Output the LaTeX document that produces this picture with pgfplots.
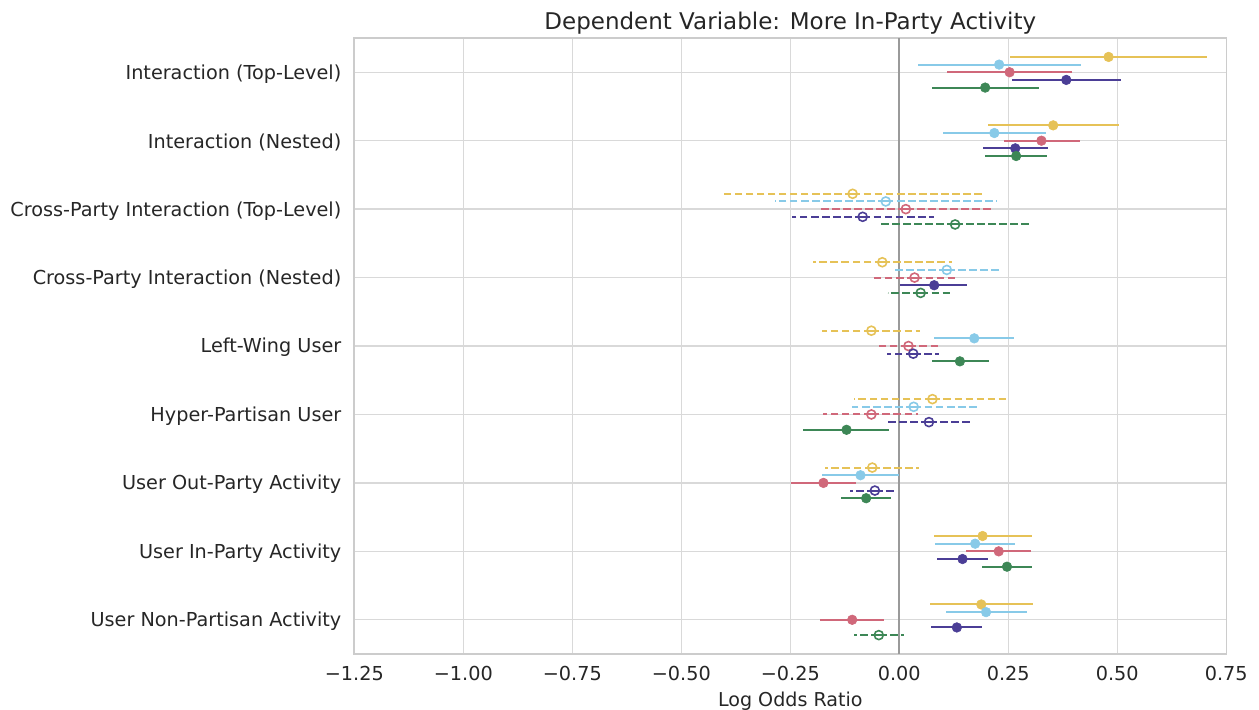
\documentclass[border=0pt]{standalone}
\usepackage{pgfplots}
\usepackage{pgfplotstable}
\pgfplotsset{compat=1.18}
\usepackage{fontspec}
\setmainfont{DejaVu Sans}
\definecolor{cY}{HTML}{E6C257}
\definecolor{cB}{HTML}{88CAE8}
\definecolor{cR}{HTML}{D0687A}
\definecolor{cP}{HTML}{4B3E96}
\definecolor{cG}{HTML}{3D8756}
\definecolor{txt}{HTML}{262626}
\definecolor{gridc}{HTML}{D9D9D9}
\definecolor{framec}{HTML}{CCCCCC}
\definecolor{zeroc}{HTML}{9A9A9A}

\pgfplotsset{
 sigplot/.style={only marks, mark=*, color=#1, mark size=2.4pt,
   mark options={solid, fill=#1, draw=#1, line width=0.3pt},
   error bars/.cd, x dir=both, x explicit, error mark=none,
   error bar style={line width=1pt, solid, color=#1}},
 nsplot/.style={only marks, mark=o, color=#1, mark size=2.25pt,
   mark options={solid, fill=none, draw=#1, line width=0.8pt},
   error bars/.cd, x dir=both, x explicit, error mark=none,
   error bar style={line width=1pt, dash pattern=on 3.85pt off 1.67pt, color=#1}},
 table/ci/.style={x=e, y=y, x error plus expr=\thisrow{h}-\thisrow{e}, x error minus expr=\thisrow{e}-\thisrow{l}},
}

% y: category index + offset (yellow -0.224, blue -0.112, red 0, purple +0.112, green +0.224)
\pgfplotstableread{
y e l h
-0.224 0.480 0.255 0.706
0.776 0.353 0.203 0.505
6.776 0.191 0.079 0.304
7.776 0.188 0.071 0.306
}\Ysig
\pgfplotstableread{
y e l h
1.776 -0.107 -0.410 0.193
2.776 -0.039 -0.197 0.121
3.776 -0.064 -0.177 0.047
4.776 0.076 -0.104 0.249
5.776 -0.062 -0.170 0.046
}\Yns
\pgfplotstableread{
y e l h
-0.112 0.229 0.044 0.417
0.888 0.218 0.101 0.336
3.888 0.172 0.080 0.264
5.888 -0.089 -0.178 0.000
6.888 0.174 0.083 0.265
7.888 0.199 0.106 0.292
}\Bsig
\pgfplotstableread{
y e l h
1.888 -0.031 -0.285 0.223
2.888 0.109 -0.014 0.228
4.888 0.033 -0.109 0.178
}\Bns
\pgfplotstableread{
y e l h
0 0.253 0.110 0.396
1 0.326 0.239 0.414
6 -0.174 -0.248 -0.099
7 0.228 0.154 0.302
8 -0.108 -0.182 -0.034
}\Rsig
\pgfplotstableread{
y e l h
2 0.015 -0.180 0.210
3 0.035 -0.058 0.128
4 0.021 -0.050 0.092
5 -0.064 -0.174 0.044
}\Rns
\pgfplotstableread{
y e l h
0.112 0.383 0.258 0.508
1.112 0.266 0.193 0.341
3.112 0.080 0.001 0.156
7.112 0.145 0.087 0.203
8.112 0.132 0.073 0.190
}\Psig
\pgfplotstableread{
y e l h
2.112 -0.084 -0.245 0.080
4.112 0.032 -0.028 0.092
5.112 0.068 -0.027 0.164
6.112 -0.056 -0.112 -0.006
}\Pns
\pgfplotstableread{
y e l h
0.224 0.197 0.074 0.321
1.224 0.268 0.197 0.339
4.224 0.139 0.074 0.205
5.224 -0.121 -0.220 -0.023
6.224 -0.076 -0.133 -0.020
7.224 0.247 0.190 0.304
}\Gsig
\pgfplotstableread{
y e l h
2.224 0.128 -0.042 0.300
3.224 0.049 -0.027 0.122
8.224 -0.047 -0.105 0.011
}\Gns

\begin{document}
\begin{tikzpicture}
\useasboundingbox (-177.15pt,-27.5pt) rectangle (452.35pt,327pt);
\begin{axis}[
 at={(0,0)}, anchor=south west,
 scale only axis, width=436pt, height=308pt,
 xmin=-1.25, xmax=0.75, ymin=-0.5, ymax=8.5, y dir=reverse,
 xtick={-1.25,-1.00,-0.75,-0.50,-0.25,0,0.25,0.50,0.75},
 xticklabels={−1.25,−1.00,−0.75,−0.50,−0.25,0.00,0.25,0.50,0.75},
 ytick={0,1,2,3,4,5,6,7,8},
 yticklabels={Interaction (Top-Level),Interaction (Nested),Cross-Party Interaction (Top-Level),Cross-Party Interaction (Nested),Left-Wing User,Hyper-Partisan User,User Out-Party Activity,User In-Party Activity,User Non-Partisan Activity},
 grid=major, major grid style={color=gridc, line width=0.65pt},
 axis line style={color=framec, line width=0.8pt},
 major tick length=0pt, tick style={draw=none},
 tick label style={font=\fontsize{9.62}{11}\selectfont, text=txt},
 xticklabel style={anchor=base, yshift=-13pt, inner sep=0pt},
 yticklabel style={anchor=east, xshift=-6.3pt, yshift=-0.8pt, inner sep=0pt},
 title={Dependent Variable: More In-Party Activity},
 title style={at={(axis description cs:0.5,1)}, anchor=base, yshift=-1.6pt, font=\fontsize{11.5}{13}\selectfont, text=txt, inner sep=0pt},
 xlabel={Log Odds Ratio},
 xlabel style={at={(axis description cs:0.5,0)}, anchor=base, yshift=-26pt, font=\fontsize{9.55}{11}\selectfont, text=txt, inner sep=0pt},
]
\addplot[zeroc, line width=1pt] coordinates {(0,-0.5) (0,8.5)};
\addplot[nsplot=cY] table[ci] {\Yns};
\addplot[sigplot=cY] table[ci] {\Ysig};
\addplot[nsplot=cB] table[ci] {\Bns};
\addplot[sigplot=cB] table[ci] {\Bsig};
\addplot[nsplot=cR] table[ci] {\Rns};
\addplot[sigplot=cR] table[ci] {\Rsig};
\addplot[nsplot=cP] table[ci] {\Pns};
\addplot[sigplot=cP] table[ci] {\Psig};
\addplot[nsplot=cG] table[ci] {\Gns};
\addplot[sigplot=cG] table[ci] {\Gsig};
\end{axis}
\end{tikzpicture}
\end{document}
